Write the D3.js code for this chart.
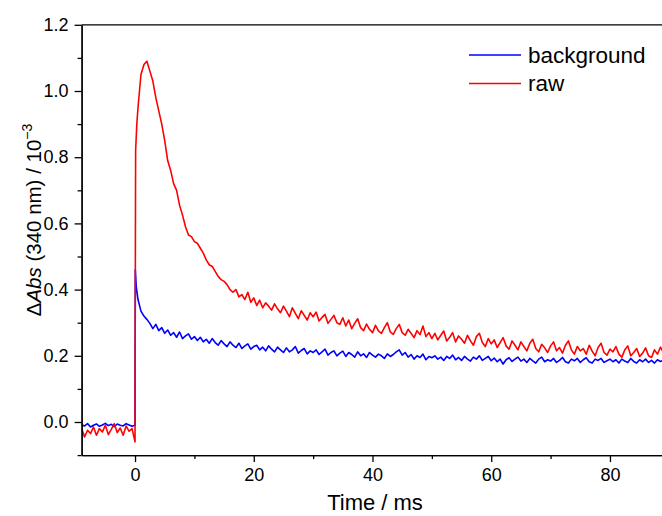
<!DOCTYPE html>
<html>
<head>
<meta charset="utf-8">
<script src="https://cdn.jsdelivr.net/npm/d3@7"></script>
<style>
  body { margin: 0; background: #fff; }
  svg { display: block; font-family: "Liberation Sans", Arial, sans-serif; }
</style>
</head>
<body>
<svg id="chart" width="662" height="516"></svg>
<script>
// sampling grid of the traces (ms)
const tStart = -9;
const tStep = 0.5;

// pre-trigger part, t = -9 ... 0
const bgPre = [-0.008, -0.012, -0.005, -0.015, -0.010, -0.006, -0.013, -0.009, -0.004, -0.011,
  -0.007, -0.014, -0.006, -0.010, -0.012, -0.005, -0.009, -0.013, -0.010];
const rawPre = [-0.020, -0.045, -0.025, -0.035, -0.015, -0.040, -0.020, -0.030, -0.010, -0.038,
  -0.022, -0.005, -0.032, -0.018, -0.040, -0.012, -0.028, -0.020, -0.060];

// flash onset, [t, value]
const bgOnset = [[0.05, 0.46], [0.2, 0.41]];
const rawOnset = [[0.05, 0.45], [0.1, 0.82], [0.3, 0.9]];

// post-trigger part, t = 0.5 ... 89
const bgPost = [
  0.37, 0.335, 0.32, 0.31, 0.298, 0.282, 0.295, 0.276, 0.285, 0.268,
  0.278, 0.262, 0.27, 0.256, 0.272, 0.252, 0.26, 0.266, 0.25, 0.258,
  0.246, 0.256, 0.242, 0.25, 0.238, 0.252, 0.24, 0.232, 0.246, 0.236,
  0.228, 0.242, 0.232, 0.225, 0.238, 0.222, 0.23, 0.236, 0.22, 0.228,
  0.232, 0.218, 0.226, 0.215, 0.23, 0.22, 0.212, 0.226, 0.218, 0.21,
  0.224, 0.212, 0.218, 0.228, 0.208, 0.216, 0.222, 0.206, 0.215, 0.21,
  0.218, 0.204, 0.212, 0.22, 0.202, 0.21, 0.215, 0.2, 0.208, 0.214,
  0.198, 0.21, 0.204, 0.196, 0.212, 0.2, 0.206, 0.195, 0.21, 0.202,
  0.196, 0.205, 0.2, 0.192, 0.206, 0.198, 0.204, 0.212, 0.218, 0.202,
  0.21, 0.196, 0.204, 0.19, 0.2, 0.195, 0.205, 0.188, 0.198, 0.194,
  0.2, 0.19, 0.196, 0.186, 0.198, 0.192, 0.202, 0.188, 0.195, 0.186,
  0.198, 0.19, 0.184, 0.196, 0.19, 0.2, 0.186, 0.192, 0.198, 0.185,
  0.193, 0.182, 0.19, 0.175, 0.188, 0.194, 0.183, 0.19, 0.196, 0.184,
  0.19, 0.18, 0.192, 0.185, 0.178, 0.19, 0.196, 0.182, 0.188, 0.184,
  0.192, 0.18, 0.186, 0.195, 0.182, 0.178, 0.19, 0.185, 0.192, 0.18,
  0.188, 0.194, 0.182, 0.178, 0.19, 0.186, 0.192, 0.18, 0.185, 0.19,
  0.182, 0.188, 0.178, 0.19, 0.184, 0.18, 0.192, 0.183, 0.178, 0.188,
  0.182, 0.19, 0.18, 0.186, 0.178, 0.188, 0.183, 0.186
];
const rawPost = [
  0.95, 1.05, 1.08, 1.09, 1.06, 1.03, 0.98, 0.94, 0.90, 0.85,
  0.79, 0.76, 0.72, 0.70, 0.655, 0.625, 0.59, 0.565, 0.56, 0.545,
  0.54, 0.525, 0.51, 0.49, 0.475, 0.47, 0.455, 0.44, 0.43, 0.425,
  0.415, 0.40, 0.392, 0.40, 0.378, 0.385, 0.37, 0.392, 0.362, 0.375,
  0.352, 0.368, 0.345, 0.36, 0.35, 0.338, 0.357, 0.342, 0.33, 0.35,
  0.335, 0.318, 0.345, 0.328, 0.312, 0.336, 0.322, 0.308, 0.33, 0.318,
  0.332, 0.305, 0.316, 0.325, 0.298, 0.31, 0.322, 0.3, 0.295, 0.315,
  0.29, 0.308, 0.282, 0.298, 0.312, 0.285, 0.276, 0.296, 0.28, 0.27,
  0.292, 0.275, 0.268, 0.285, 0.3, 0.272, 0.265, 0.282, 0.295, 0.27,
  0.262, 0.28, 0.268, 0.255, 0.276, 0.264, 0.29, 0.258, 0.27, 0.252,
  0.268, 0.248, 0.262, 0.275, 0.245, 0.256, 0.27, 0.242, 0.26, 0.25,
  0.238, 0.262, 0.245, 0.232, 0.258, 0.268, 0.24, 0.228, 0.252, 0.236,
  0.248, 0.225, 0.24, 0.255, 0.23, 0.22, 0.245, 0.232, 0.218, 0.242,
  0.228, 0.215, 0.238, 0.25, 0.222, 0.212, 0.235, 0.224, 0.21, 0.23,
  0.242, 0.215, 0.225, 0.208, 0.232, 0.245, 0.218, 0.205, 0.228, 0.215,
  0.222, 0.205, 0.232, 0.214, 0.2, 0.225, 0.238, 0.21, 0.202, 0.22,
  0.212, 0.228, 0.205, 0.196, 0.218, 0.23, 0.2, 0.21, 0.222, 0.198,
  0.208, 0.224, 0.2, 0.195, 0.218, 0.205, 0.226, 0.21
];

const xTicks = [0, 20, 40, 60, 80];
const xMinor = [10, 30, 50, 70];
const yTicks = [0.0, 0.2, 0.4, 0.6, 0.8, 1.0, 1.2];
const yMinor = [-0.1, 0.1, 0.3, 0.5, 0.7, 0.9, 1.1];

const series = [
  { name: "background", color: "#0000ff", pre: bgPre, onset: bgOnset, post: bgPost },
  { name: "raw", color: "#ff0000", pre: rawPre, onset: rawOnset, post: rawPost },
];

function toPoints(s) {
  const pts = s.pre.map((v, i) => [tStart + i * tStep, v]);
  s.onset.forEach((d) => pts.push(d));
  s.post.forEach((v, i) => pts.push([tStep + i * tStep, v]));
  return pts;
}

const svg = d3.select("#chart");
const plotL = 81.6, plotR = 663.4, plotT = 24.8, plotB = 455.1;

const x = d3.scaleLinear().domain([-9, 89]).range([plotL, plotR]);
const y = d3.scaleLinear().domain([-0.1, 1.2]).range([plotB, plotT]);

svg.append("defs").append("clipPath").attr("id", "plot")
  .append("rect")
  .attr("x", plotL).attr("y", plotT)
  .attr("width", plotR - plotL).attr("height", plotB - plotT);

const line = d3.line().x((d) => x(d[0])).y((d) => y(d[1]));

svg.append("g")
  .attr("clip-path", "url(#plot)")
  .selectAll("path")
  .data(series)
  .join("path")
  .attr("d", (d) => line(toPoints(d)))
  .attr("fill", "none")
  .attr("stroke", (d) => d.color)
  .attr("stroke-width", 1.6)
  .attr("stroke-linejoin", "round");

// axes
function styleAxis(g) {
  g.select(".domain").attr("stroke", "#000").attr("stroke-width", 1.3);
  g.selectAll(".tick line").attr("stroke", "#000").attr("stroke-width", 1.3);
  g.selectAll("text").attr("fill", "#000").attr("font-size", 18);
}

svg.append("g")
  .attr("transform", `translate(0,${plotB})`)
  .call(d3.axisBottom(x).tickValues(xTicks).tickSize(7).tickSizeOuter(0).tickPadding(6).tickFormat(d3.format("d")))
  .call(styleAxis);

svg.append("g")
  .attr("transform", `translate(0,${plotB})`)
  .call(d3.axisBottom(x).tickValues(xMinor).tickSize(4).tickSizeOuter(0).tickFormat(""))
  .call(styleAxis);

svg.append("g")
  .attr("transform", `translate(${plotL},0)`)
  .call(d3.axisLeft(y).tickValues(yTicks).tickSize(7).tickSizeOuter(0).tickPadding(6).tickFormat(d3.format(".1f")))
  .call(styleAxis);

svg.append("g")
  .attr("transform", `translate(${plotL},0)`)
  .call(d3.axisLeft(y).tickValues(yMinor).tickSize(4).tickSizeOuter(0).tickFormat(""))
  .call(styleAxis);

// top frame line
svg.append("line")
  .attr("x1", plotL).attr("x2", plotR)
  .attr("y1", plotT).attr("y2", plotT)
  .attr("stroke", "#000").attr("stroke-width", 1.3);

// axis titles
svg.append("text")
  .attr("x", 375).attr("y", 510)
  .attr("text-anchor", "middle")
  .attr("font-size", 22)
  .text("Time / ms");

const yLab = svg.append("text")
  .attr("transform", "translate(41,220) rotate(-90)")
  .attr("text-anchor", "middle")
  .attr("font-size", 20.5);
yLab.append("tspan").text("\u0394");
yLab.append("tspan").attr("font-style", "italic").text("Abs");
yLab.append("tspan").text(" (340 nm) / 10");
yLab.append("tspan").attr("dy", -9).attr("font-size", 14).text("\u22123");

// legend
const legend = svg.append("g")
  .selectAll("g")
  .data(series)
  .join("g")
  .attr("transform", (_, i) => `translate(469,${55 + i * 28.5})`);

legend.append("line")
  .attr("x1", 0).attr("x2", 52)
  .attr("stroke", (d) => d.color)
  .attr("stroke-width", 1.6);

legend.append("text")
  .attr("x", 59).attr("y", 7.5)
  .attr("font-size", 22.5)
  .text((d) => d.name);
</script>
</body>
</html>
